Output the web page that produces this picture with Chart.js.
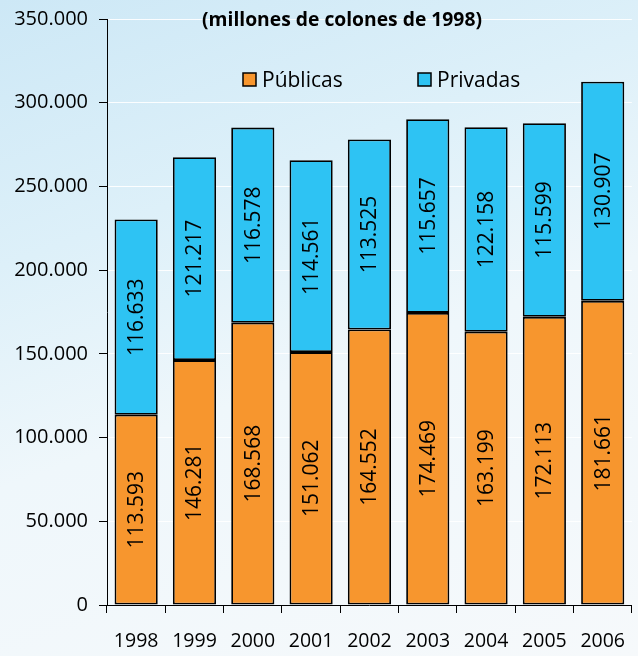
<!DOCTYPE html>
<html>
<head>
<meta charset="utf-8">
<script src="https://cdn.jsdelivr.net/npm/chart.js@4/dist/chart.umd.min.js"></script>
<style>
  html, body { margin: 0; padding: 0; overflow: hidden; }
  body {
    width: 638px; height: 656px;
    background: linear-gradient(160deg, #cde8f6 0%, #ddf0f9 30%, #eff7fb 55%, #f6f9fb 100%);
  }
  #wrap { position: relative; width: 642px; height: 656px; }
</style>
</head>
<body>
<div id="wrap"><canvas id="c"></canvas></div>
<script>
const years = ['1998','1999','2000','2001','2002','2003','2004','2005','2006'];
const publicas = [113593, 146281, 168568, 151062, 164552, 174469, 163199, 172113, 181661];
const privadas = [116633, 121217, 116578, 114561, 113525, 115657, 122158, 115599, 130907];
const seriesNames = ['Públicas', 'Privadas'];
const titleText = '(millones de colones de 1998)';

const FONT = "'Open Sans', 'Noto Sans', sans-serif";
const ORANGE = '#F7962E';
const CYAN = '#2EC3F3';

function fmt(v) {
  return String(Math.round(v)).replace(/\B(?=(\d{3})+(?!\d))/g, '.');
}

const overlay = {
  id: 'overlay',
  afterDatasetsDraw(chart) {
    const ctx = chart.ctx;
    ctx.save();
    ctx.fillStyle = '#000';
    ctx.font = '21px ' + FONT;
    ctx.textAlign = 'center';
    ctx.textBaseline = 'middle';
    chart.data.datasets.forEach((ds, di) => {
      const meta = chart.getDatasetMeta(di);
      meta.data.forEach((bar, i) => {
        const top = Math.min(bar.y, bar.base);
        const bot = Math.max(bar.y, bar.base);
        const cy = (top + bot) / 2;
        ctx.save();
        ctx.translate(bar.x, cy);
        ctx.rotate(-Math.PI / 2);
        ctx.fillText(fmt(ds.data[i]), 0, 1);
        ctx.restore();
      });
    });
    const ca = chart.chartArea;
    ctx.font = 'bold 19.3px ' + FONT;
    ctx.fillText(titleText, 342, ca.top + 2);
    ctx.font = '21px ' + FONT;
    ctx.textAlign = 'left';
    const items = [[243, ORANGE], [418, CYAN]];
    items.forEach(([x, col], k) => {
      const y = 80;
      ctx.fillStyle = col;
      ctx.fillRect(x, y - 7, 13, 13);
      ctx.lineWidth = 1.5;
      ctx.strokeStyle = '#000';
      ctx.strokeRect(x, y - 7, 13, 13);
      ctx.fillStyle = '#000';
      ctx.fillText(seriesNames[k], x + 19, y + 1);
    });
    ctx.restore();
  }
};

new Chart(document.getElementById('c'), {
  type: 'bar',
  data: {
    labels: years,
    datasets: [
      { label: seriesNames[0], data: publicas, backgroundColor: ORANGE, borderColor: '#000', borderWidth: 1.8, borderSkipped: false },
      { label: seriesNames[1], data: privadas, backgroundColor: CYAN, borderColor: '#000', borderWidth: 1.8, borderSkipped: false }
    ]
  },
  options: {
    responsive: true,
    maintainAspectRatio: false,
    animation: false,
    layout: { padding: { top: 19, left: 0, right: 0, bottom: 0 } },
    plugins: { legend: { display: false }, tooltip: { enabled: false }, title: { display: false } },
    datasets: { bar: { categoryPercentage: 1, barPercentage: 0.74 } },
    scales: {
      x: {
        stacked: true,
        afterFit(scale) { scale.height = 51; },
        grid: { offset: true, drawOnChartArea: false, tickColor: '#000', tickLength: 8, lineWidth: 1 },
        border: { display: true, color: '#000', width: 1 },
        ticks: { color: '#000', font: { family: FONT, size: 19.5 }, padding: 17, maxRotation: 0 }
      },
      y: {
        stacked: true,
        min: 0, max: 350000,
        afterFit(scale) { scale.width = 107; scale.paddingTop = 0; },
        grid: { color: 'rgba(255,255,255,0.9)', lineWidth: 1, tickColor: '#000', tickLength: 8 },
        border: { display: true, color: '#000', width: 1 },
        ticks: { stepSize: 50000, color: '#000', font: { family: FONT, size: 20, lineHeight: 1 }, padding: 11, callback: v => fmt(v) }
      }
    }
  },
  plugins: [overlay]
});
</script>
</body>
</html>
